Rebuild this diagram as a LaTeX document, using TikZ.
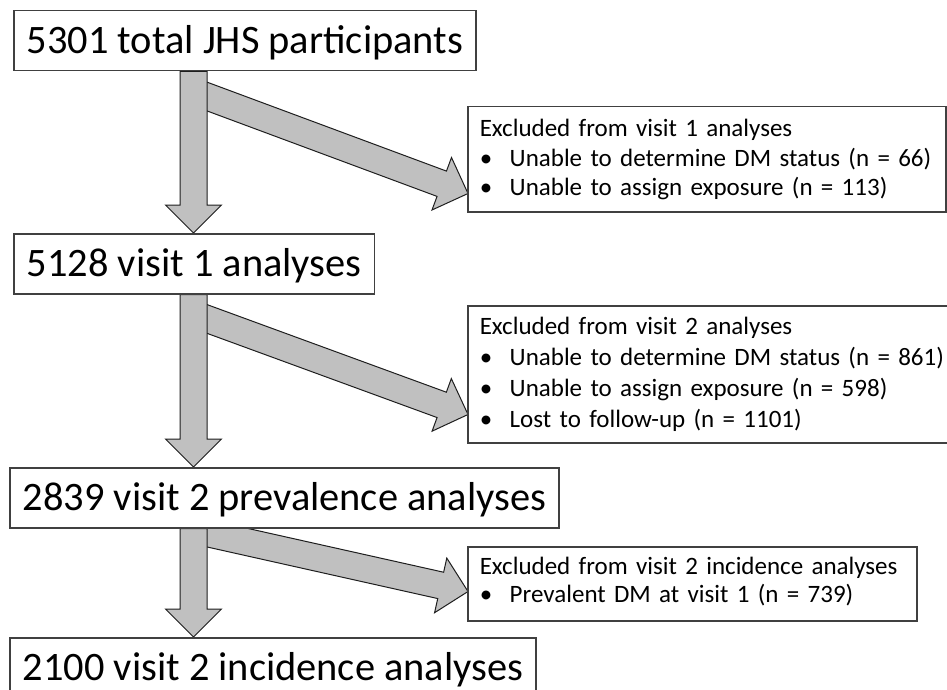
\documentclass[tikz,border=0pt]{standalone}
\usepackage{fontspec}
\setmainfont{Carlito}
\usetikzlibrary{calc,backgrounds}
\definecolor{arrowfill}{RGB}{192,192,192}
\definecolor{boxline}{RGB}{64,64,64}
\definecolor{arrowline}{RGB}{30,30,30}
\newcommand\exbul[1]{\makebox[30pt][l]{\textbullet}\mbox{#1}}
\newcommand\blockarrow[2]{%
  \coordinate (#1-#2-h) at ($(#2)!28pt!(#1)$);
  \draw[barrow] ($(#1)!13.5pt!90:(#2)$) -- ($(#1-#2-h)!13.5pt!-90:(#1)$)
    -- ($(#1-#2-h)!28pt!-90:(#1)$) -- (#2) -- ($(#1-#2-h)!28pt!90:(#1)$)
    -- ($(#1-#2-h)!13.5pt!90:(#1)$) -- ($(#1)!13.5pt!-90:(#2)$) -- cycle;}
\tikzset{
  mainbox/.style={draw=boxline, line width=1.5pt, fill=white, anchor=north west,
    font=\fontsize{40.4}{48}\selectfont, text height=25.5pt, text depth=0pt,
    minimum height=60pt, inner xsep=13pt, inner ysep=0pt},
  exbox/.style={draw=boxline, line width=1.5pt, fill=white, anchor=north west,
    align=left, inner xsep=12pt, inner ysep=0pt},
  barrow/.style={fill=arrowfill, draw=arrowline, line width=1pt, line join=miter}
}
\begin{document}
\begin{tikzpicture}[x=1pt,y=-1pt]
\useasboundingbox (0,0) rectangle (947,690);
\node[mainbox] (b1) at (13,10) {5301 total JHS participants};
\node[mainbox] (b2) at (13,233) {5128 visit 1 analyses};
\node[mainbox] (b3) at (9,467) {2839 visit 2 prevalence analyses};
\node[mainbox] (b4) at (9,637) {2100 visit 2 incidence analyses};
\node[exbox, text width=454pt, font={\fontsize{25}{29.5}\selectfont\parindent=0pt}] (e1) at (467,106)
  {\rule{0pt}{30pt}Excluded from visit 1 analyses\\
   \exbul{Unable to determine DM status (n = 66)}\\
   \exbul{Unable to assign exposure (n = 113)}\rule[-16pt]{0pt}{16pt}};
\node[exbox, text width=461pt, font={\fontsize{25}{31}\selectfont\parindent=0pt}] (e2) at (467,305)
  {\rule{0pt}{29pt}Excluded from visit 2 analyses\\
   \exbul{Unable to determine DM status (n = 861)}\\
   \exbul{Unable to assign exposure (n = 598)}\\
   \exbul{Lost to follow-up (n = 1101)}\rule[-15pt]{0pt}{15pt}};
\node[exbox, text width=425pt, font={\fontsize{25}{28}\selectfont\parindent=0pt}] (e3) at (467,546)
  {\rule{0pt}{28pt}\mbox{Excluded from visit 2 incidence analyses}\\
   \exbul{Prevalent DM at visit 1 (n = 739)}\rule[-18pt]{0pt}{18pt}};
\coordinate (axis) at (193.5,0);
\coordinate (v1s) at (b1.south -| axis);
\coordinate (v1t) at (b2.north -| axis);
\coordinate (v2s) at (b2.south -| axis);
\coordinate (v2t) at (b3.north -| axis);
\coordinate (v3s) at (b3.south -| axis);
\coordinate (v3t) at (b4.north -| axis);
\coordinate (d1s) at ($(v1s)+(0,20)$);
\coordinate (d1t) at ($(e1.south west)+(1,-19)$);
\coordinate (d2s) at ($(v2s)+(0,19.5)$);
\coordinate (d2t) at ($(e2.south west)+(1,-29)$);
\coordinate (d3s) at ($(v3s)+(0,1.6)$);
\coordinate (d3t) at ($(e3.south west)+(1,-30)$);
\begin{pgfonlayer}{background}
\blockarrow{d1s}{d1t}
\blockarrow{d2s}{d2t}
\blockarrow{d3s}{d3t}
\blockarrow{v1s}{v1t}
\blockarrow{v2s}{v2t}
\blockarrow{v3s}{v3t}
\end{pgfonlayer}
\end{tikzpicture}
\end{document}
